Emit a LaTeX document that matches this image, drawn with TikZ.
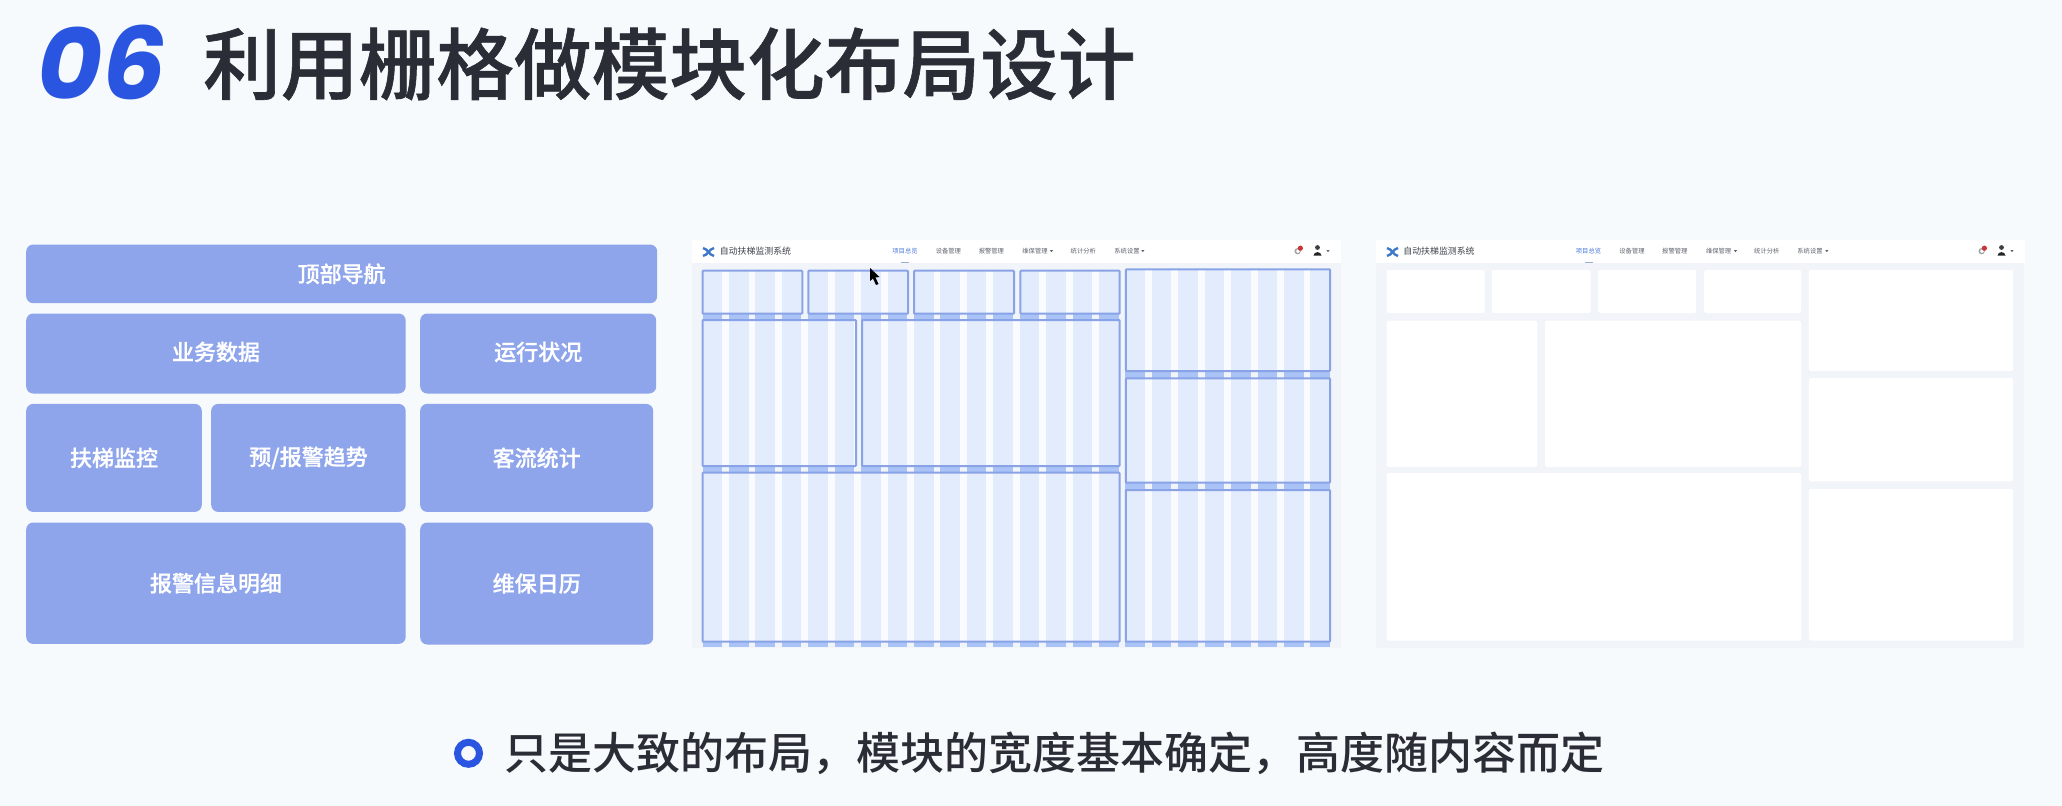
\documentclass[tikz,border=0pt]{standalone}
\usepackage{fontspec}
\setmainfont{Noto Sans CJK SC}
\newfontfamily\cjkm{Noto Sans CJK SC Medium}
\newfontfamily\cjkh{Noto Sans CJK SC Medium}[FakeBold=0.8]
\newfontfamily\numfont{Poppins}
\definecolor{pagebg}{HTML}{F7FAFC}
\definecolor{ink}{HTML}{2B2D36}
\definecolor{brand}{HTML}{2A55E0}
\definecolor{blk}{HTML}{8EA5EB}
\definecolor{panelbg}{HTML}{F1F4F9}
\definecolor{coldark}{HTML}{A9C3F6}
\definecolor{collight}{HTML}{E2ECFD}
\definecolor{colgut}{HTML}{F9FBFF}
\definecolor{edgeblue}{HTML}{8AA3E6}
\definecolor{navblue}{HTML}{4A78D8}
\definecolor{logoblue}{HTML}{3F78C8}
\definecolor{navgrey}{HTML}{5F646D}
\tikzset{
  blockbox/.style={fill=blk,rounded corners=7pt,inner sep=0pt,anchor=north west,text=white,font=\cjkh\fontsize{22}{22}\selectfont},
  navtitle/.style={inner sep=0pt,text=ink!90,font=\fontsize{8.9}{9}\selectfont},
  navitem/.style={inner sep=0pt,text=navgrey,font=\fontsize{6.3}{7}\selectfont},
  navactive/.style={navitem,text=navblue},
  card/.style={fill=white,rounded corners=1.5pt},
  navarrow/.style={fill=navgrey,draw=none},
  logostroke/.style={draw=logoblue,line width=2.4pt}
}
% block with label: name, x1, y1, x2, y2, text
\newcommand{\blockat}[6]{\node[blockbox,minimum width=#4pt-#2pt,minimum height=#5pt-#3pt] (#1) at (#2,#3) {#6};}
% grid-overlaid module
\newcommand{\gridmod}[4]{%
  \begin{scope}
    \clip (#1,#2) rectangle (#3,#4);
    \fill[colgut] (#1,#2) rectangle (#3,#4);
    \foreach \k in {0,...,23}{
      \pgfmathsetmacro{\cx}{702.5+26.43*\k}
      \fill[collight] (\cx,260) rectangle (\cx+19.6,650);
    }
  \end{scope}
  \draw[edgeblue,line width=2pt,rounded corners=0.8pt] (#1,#2) rectangle (#3,#4);
}
% nav bar: panel offset, logo x, etc.
\newcommand{\navbar}[1]{%
  \begin{scope}[shift={(#1,0)}]
    \fill[white] (692,239.7) rectangle (1341,262.7);
    \draw[logostroke] (703,248) .. controls (708,249) and (709,255) .. (714,256);
    \draw[logostroke] (703,256) .. controls (708,255) and (709,249) .. (714,248);
    \fill[coldark!70!gray] (901,261.6) rectangle (909,263);
    \fill[navarrow] (1050,250.2) -- (1053,250.2) -- (1051.5,252.2) -- cycle;
    \fill[navarrow] (1141.3,250.2) -- (1144.3,250.2) -- (1142.8,252.2) -- cycle;
    \fill[navarrow] (1326.5,250.2) -- (1329.5,250.2) -- (1328,252.2) -- cycle;
    \fill[gray!70] (1297.6,251.2) circle (3.2);
    \fill[white] (1297.9,251.2) circle (1.9);
    \fill[red!75!black!80] (1300.4,248.2) circle (2.6);
    \fill[black!75] (1317.5,247.5) circle (2.4);
    \fill[black!85] (1313.5,255.5) .. controls (1314,251) and (1321,251) .. (1321.5,255.5) -- cycle;
  \end{scope}
}
\begin{document}
\begin{tikzpicture}[x=1pt,y=-1pt]
\useasboundingbox (0,0) rectangle (2062,806);
\fill[pagebg] (0,0) rectangle (2062,806);

% title
\node[inner sep=0pt,anchor=west,text=brand,font=\numfont\bfseries\itshape\fontsize{100}{100}\selectfont] (num) at (37,62) {06};
\node[inner sep=0pt,anchor=west,text=ink,font=\cjkh\fontsize{77.7}{78}\selectfont] (title) at (203,64) {利用栅格做模块化布局设计};

% left block diagram
\blockat{top}{26}{244.3}{657}{303}{\raisebox{-1pt}{顶部导航}}
\blockat{biz}{26}{313.3}{405.5}{393.3}{\raisebox{5pt}{业务数据}}
\blockat{run}{420}{313.3}{656}{393.3}{\raisebox{5pt}{运行状况}}
\blockat{mon}{26}{403.7}{201.6}{511.7}{\raisebox{-1pt}{扶梯监控}}
\blockat{trend}{211}{403.7}{405.5}{511.7}{\raisebox{-1pt}{预/报警趋势}}
\blockat{flow}{420}{403.7}{653}{511.7}{\raisebox{-1pt}{客流统计}}
\blockat{alarm}{26}{522.3}{405.5}{643.7}{报警信息明细}
\blockat{cal}{420}{522.3}{653}{644.3}{维保日历}

% middle panel
\fill[panelbg] (692,262) rectangle (1341,648);
\foreach \k in {0,...,23}{
  \pgfmathsetmacro{\cx}{702.5+26.43*\k}
  \fill[coldark] (\cx,270) rectangle (\cx+19.6,647);
}
\navbar{0}
\gridmod{702.5}{270.7}{802.3}{313.7}
\gridmod{808.4}{270.7}{908}{313.7}
\gridmod{914}{270.7}{1014}{313.7}
\gridmod{1020.4}{270.7}{1119.7}{313.7}
\gridmod{702.5}{320}{856}{466}
\gridmod{862}{320}{1119.7}{466}
\gridmod{702.5}{472.7}{1119.7}{641.7}
\gridmod{1125.8}{269.3}{1330}{371}
\gridmod{1125.8}{378.3}{1330}{482.7}
\gridmod{1125.8}{490}{1330}{641.7}
\node[navtitle] (midname) at (755.5,251.5) {自动扶梯监测系统};
\node[navactive] (m1) at (905,251.5) {项目总览};
\node[navitem] (m2) at (948.4,251.5) {设备管理};
\node[navitem] (m3) at (991.4,251.5) {报警管理};
\node[navitem] (m4) at (1035,251.5) {维保管理};
\node[navitem] (m5) at (1083.3,251.5) {统计分析};
\node[navitem] (m6) at (1127,251.5) {系统设置};
% mouse cursor
\fill[black] (870,268) -- (870,281) -- (873,278.5) -- (876,285) -- (878.5,284) -- (875.5,277.5) -- (879.5,277) -- cycle;

% right panel
\fill[panelbg] (1376,262) rectangle (2024.3,648);
\navbar{684}
\fill[card] (1386.5,270) rectangle (1484.5,313);
\fill[card] (1491.8,270) rectangle (1590.7,313);
\fill[card] (1598,270) rectangle (1696,313);
\fill[card] (1704,270) rectangle (1801,313);
\fill[card] (1386.5,320.7) rectangle (1537.4,467);
\fill[card] (1545,320.7) rectangle (1801,467);
\fill[card] (1386.5,473) rectangle (1801,640.5);
\fill[card] (1808.8,270) rectangle (2013,371);
\fill[card] (1808.8,378) rectangle (2013,481.3);
\fill[card] (1808.8,489) rectangle (2013,640.5);
\node[navtitle] (rgtname) at (1439,251.5) {自动扶梯监测系统};
\node[navactive] (r1) at (1588.5,251.5) {项目总览};
\node[navitem] (r2) at (1632,251.5) {设备管理};
\node[navitem] (r3) at (1674.8,251.5) {报警管理};
\node[navitem] (r4) at (1718.6,251.5) {维保管理};
\node[navitem] (r5) at (1766.8,251.5) {统计分析};
\node[navitem] (r6) at (1810,251.5) {系统设置};

% bottom note
\node[circle,draw=brand,line width=7pt,minimum size=22pt,inner sep=0pt] (dot) at (468.5,753.3) {};
\node[inner sep=0pt,anchor=west,text=ink,font=\cjkm\fontsize{44}{44}\selectfont] (note) at (504,753) {只是大致的布局，模块的宽度基本确定，高度随内容而定};
\end{tikzpicture}
\end{document}
